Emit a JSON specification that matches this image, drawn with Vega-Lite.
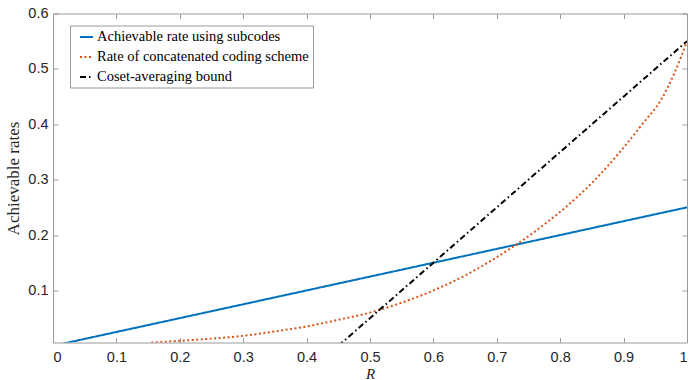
{
  "$schema": "https://vega.github.io/schema/vega-lite/v6.json",
  "width": 634,
  "height": 329,
  "autosize": {"type": "none"},
  "padding": {"left": 53, "top": 13.5, "right": 3, "bottom": 37.5},
  "background": "white",
  "config": {
    "view": {"stroke": "#9a9a9a", "strokeWidth": 1},
    "axis": {
      "domain": false,
      "grid": false,
      "tickColor": "#9a9a9a",
      "tickSize": -5,
      "tickWidth": 1,
      "labelFont": "Liberation Sans",
      "labelFontSize": 14.5,
      "labelColor": "#262626",
      "titleFont": "Liberation Serif",
      "titleFontWeight": "normal",
      "titleColor": "#262626"
    },
    "legend": {
      "strokeColor": "#9a9a9a",
      "fillColor": "white",
      "padding": 4,
      "symbolType": "stroke",
      "symbolSize": 169,
      "symbolStrokeWidth": 2,
      "labelFont": "Liberation Serif",
      "labelFontSize": 14.5,
      "labelColor": "#000000",
      "rowPadding": 5,
      "symbolOffset": 5,
      "labelOffset": 3,
      "labelLimit": 400
    }
  },
  "data": {
    "values": [
      {"series": "Achievable rate using subcodes", "R": 0.0, "rate": 0.0},
      {"series": "Achievable rate using subcodes", "R": 1.0, "rate": 0.25},
      {"series": "Rate of concatenated coding scheme", "R": 0.155, "rate": 0.006},
      {"series": "Rate of concatenated coding scheme", "R": 0.2, "rate": 0.009},
      {"series": "Rate of concatenated coding scheme", "R": 0.25, "rate": 0.013},
      {"series": "Rate of concatenated coding scheme", "R": 0.3, "rate": 0.018},
      {"series": "Rate of concatenated coding scheme", "R": 0.35, "rate": 0.026},
      {"series": "Rate of concatenated coding scheme", "R": 0.4, "rate": 0.035},
      {"series": "Rate of concatenated coding scheme", "R": 0.45, "rate": 0.047},
      {"series": "Rate of concatenated coding scheme", "R": 0.5, "rate": 0.06},
      {"series": "Rate of concatenated coding scheme", "R": 0.55, "rate": 0.078},
      {"series": "Rate of concatenated coding scheme", "R": 0.6, "rate": 0.1},
      {"series": "Rate of concatenated coding scheme", "R": 0.65, "rate": 0.127},
      {"series": "Rate of concatenated coding scheme", "R": 0.7, "rate": 0.16},
      {"series": "Rate of concatenated coding scheme", "R": 0.75, "rate": 0.198},
      {"series": "Rate of concatenated coding scheme", "R": 0.8, "rate": 0.242},
      {"series": "Rate of concatenated coding scheme", "R": 0.85, "rate": 0.294},
      {"series": "Rate of concatenated coding scheme", "R": 0.9, "rate": 0.358},
      {"series": "Rate of concatenated coding scheme", "R": 0.93, "rate": 0.401},
      {"series": "Rate of concatenated coding scheme", "R": 0.96, "rate": 0.446},
      {"series": "Rate of concatenated coding scheme", "R": 0.98, "rate": 0.492},
      {"series": "Rate of concatenated coding scheme", "R": 1.0, "rate": 0.55},
      {"series": "Coset-averaging bound", "R": 0.45, "rate": 0.0},
      {"series": "Coset-averaging bound", "R": 1.0, "rate": 0.55}
    ]
  },
  "layer": [
    {
      "mark": {"type": "line", "clip": true, "strokeWidth": 2, "interpolate": "monotone"},
      "encoding": {
        "x": {
          "field": "R", "type": "quantitative",
          "scale": {"domain": [0, 1], "nice": false},
          "axis": {"orient": "bottom", "values": [0, 0.1, 0.2, 0.3, 0.4, 0.5, 0.6, 0.7, 0.8, 0.9, 1], "format": ".1~f", "labelPadding": 13, "title": "R", "titleFontStyle": "italic", "titleFontSize": 15, "titlePadding": 2}
        },
        "y": {
          "field": "rate", "type": "quantitative",
          "scale": {"domain": [0.006, 0.6], "nice": false, "zero": false},
          "axis": {"orient": "left", "values": [0.1, 0.2, 0.3, 0.4, 0.5, 0.6], "format": ".1f", "labelPadding": 10, "title": "Achievable rates", "titleFontSize": 17, "titlePadding": 5}
        },
        "color": {
          "field": "series", "type": "nominal",
          "scale": {"domain": ["Achievable rate using subcodes", "Rate of concatenated coding scheme", "Coset-averaging bound"], "range": ["#0072BD", "#D95319", "#000000"]},
          "legend": {"title": null, "orient": "none", "legendX": 17, "legendY": 12}
        },
        "strokeDash": {
          "field": "series", "type": "nominal",
          "scale": {"domain": ["Achievable rate using subcodes", "Rate of concatenated coding scheme", "Coset-averaging bound"], "range": [[1, 0], [2, 2.5], [6, 3, 1.5, 3]]},
          "legend": {"title": null, "orient": "none", "legendX": 17, "legendY": 12}
        }
      }
    },
    {
      "mark": {"type": "point", "opacity": 0},
      "encoding": {
        "x": {"field": "R", "type": "quantitative", "axis": {"orient": "top", "values": [0, 0.1, 0.2, 0.3, 0.4, 0.5, 0.6, 0.7, 0.8, 0.9, 1], "labels": false, "title": null}},
        "y": {"field": "rate", "type": "quantitative", "axis": {"orient": "right", "values": [0.1, 0.2, 0.3, 0.4, 0.5, 0.6], "labels": false, "title": null}}
      }
    }
  ],
  "resolve": {"axis": {"x": "independent", "y": "independent"}}
}
